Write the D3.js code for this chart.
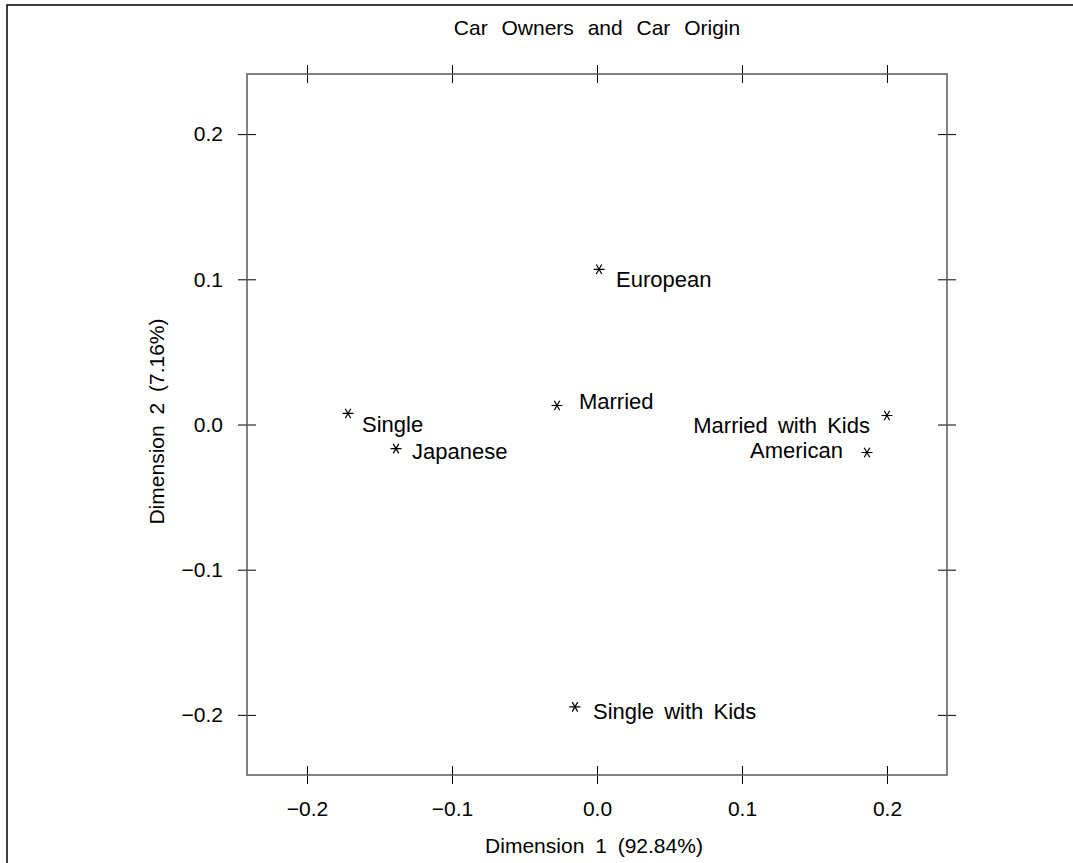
<!DOCTYPE html>
<html>
<head>
<meta charset="utf-8">
<script src="https://cdn.jsdelivr.net/npm/d3@7"></script>
<style>
  body { margin: 0; background: #fff; }
  text { font-family: "Liberation Sans", Arial, sans-serif; fill: #000; }
</style>
</head>
<body>
<div id="chart"></div>
<script>
// data
const labels = ['European', 'Married', 'Single', 'Japanese', 'Married with Kids', 'American', 'Single with Kids'];
const dim1 = [0.0014, -0.0276, -0.1717, -0.1386, 0.2000, 0.1862, -0.0152];
const dim2 = [0.1069, 0.0131, 0.0076, -0.0166, 0.0062, -0.0193, -0.1945];
const tickValues = [-0.2, -0.1, 0.0, 0.1, 0.2];

// where each label sits next to its point (pixels)
const labelPlacement = [
  { dx: 17, dy: 18, anchor: 'start' },
  { dx: 22, dy: 4, anchor: 'start' },
  { dx: 14, dy: 19, anchor: 'start' },
  { dx: 16, dy: 10, anchor: 'start' },
  { dx: -17, dy: 18, anchor: 'end' },
  { dx: -24, dy: 5, anchor: 'end' },
  { dx: 18, dy: 12, anchor: 'start' }
];

const dimensions = {
  width: 1073,
  height: 863,
  margin: { top: 74, bottom: 88, left: 247, right: 126 }
};

const svg = d3.select('#chart').append('svg')
  .attr('width', dimensions.width)
  .attr('height', dimensions.height);

// outer frame
svg.append('rect')
  .attr('x', 7).attr('y', 5)
  .attr('width', 1200).attr('height', 1000)
  .attr('fill', 'none').attr('stroke', '#000').attr('stroke-width', 1.5);

const plotLeft = dimensions.margin.left;
const plotRight = dimensions.width - dimensions.margin.right;
const plotTop = dimensions.margin.top;
const plotBottom = dimensions.height - dimensions.margin.bottom;

const xScale = d3.scaleLinear().domain([-0.2414, 0.2414]).range([plotLeft, plotRight]);
const yScale = d3.scaleLinear().domain([-0.2414, 0.2414]).range([plotBottom, plotTop]);

const fmt = d => (d < 0 ? '\u2212' : '') + Math.abs(d).toFixed(1);

function styleAxis(g, horizontal) {
  g.select('.domain').remove();
  g.selectAll('.tick line')
    .attr('stroke', '#000')
    .attr('stroke-width', 1)
    .attr(horizontal ? 'y1' : 'x1', -9)
    .attr(horizontal ? 'y2' : 'x2', 9);
  g.selectAll('.tick text')
    .attr('font-size', '21px')
    .attr('font-family', '"Liberation Sans", Arial, sans-serif');
}

svg.append('g')
  .attr('transform', `translate(0,${plotBottom})`)
  .call(d3.axisBottom(xScale).tickValues(tickValues).tickFormat(fmt).tickSizeOuter(0).tickPadding(20))
  .call(g => styleAxis(g, true));

svg.append('g')
  .attr('transform', `translate(0,${plotTop})`)
  .call(d3.axisTop(xScale).tickValues(tickValues).tickFormat('').tickSizeOuter(0))
  .call(g => styleAxis(g, true));

svg.append('g')
  .attr('transform', `translate(${plotLeft},0)`)
  .call(d3.axisLeft(yScale).tickValues(tickValues).tickFormat(fmt).tickSizeOuter(0).tickPadding(18))
  .call(g => styleAxis(g, false));

svg.append('g')
  .attr('transform', `translate(${plotRight},0)`)
  .call(d3.axisRight(yScale).tickValues(tickValues).tickFormat('').tickSizeOuter(0))
  .call(g => styleAxis(g, false));

// plot box
svg.append('rect')
  .attr('x', plotLeft).attr('y', plotTop)
  .attr('width', plotRight - plotLeft).attr('height', plotBottom - plotTop)
  .attr('fill', 'none').attr('stroke', '#5a5a5a').attr('stroke-width', 1.5);

// title and axis labels
svg.append('text')
  .attr('x', (plotLeft + plotRight) / 2).attr('y', 35)
  .attr('text-anchor', 'middle')
  .attr('font-size', '21px')
  .style('word-spacing', '8px')
  .text('Car Owners and Car Origin');

svg.append('text')
  .attr('x', (plotLeft + plotRight) / 2 - 3).attr('y', 853)
  .attr('text-anchor', 'middle')
  .attr('font-size', '21px')
  .style('word-spacing', '5px')
  .text('Dimension 1 (92.84%)');

svg.append('text')
  .attr('transform', `translate(164,${(plotTop + plotBottom) / 2 - 3}) rotate(-90)`)
  .attr('text-anchor', 'middle')
  .attr('font-size', '21px')
  .style('word-spacing', '5px')
  .text('Dimension 2 (7.16%)');

// asterisk marker: horizontal bar plus two diagonals
function asterisk(r) {
  const p = d3.path();
  const u = r * Math.cos(Math.PI / 3);
  const v = r * Math.sin(Math.PI / 3);
  p.moveTo(-r, 0); p.lineTo(r, 0);
  p.moveTo(-u, -v); p.lineTo(u, v);
  p.moveTo(-u, v); p.lineTo(u, -v);
  return p.toString();
}

const points = labels.map((name, i) => ({ name, x: dim1[i], y: dim2[i], place: labelPlacement[i] }));

const body = svg.append('g');
body.selectAll('.pt').data(points).enter().append('path')
  .attr('class', 'pt')
  .attr('transform', d => `translate(${xScale(d.x)},${yScale(d.y)})`)
  .attr('d', asterisk(5.5))
  .attr('stroke', '#000')
  .attr('stroke-width', 1.2)
  .attr('fill', 'none');

body.selectAll('.lbl').data(points).enter().append('text')
  .attr('class', 'lbl')
  .attr('x', d => xScale(d.x) + d.place.dx)
  .attr('y', d => yScale(d.y) + d.place.dy)
  .attr('text-anchor', d => d.place.anchor)
  .attr('font-size', '22px')
  .style('word-spacing', '4px')
  .text(d => d.name);
</script>
</body>
</html>
